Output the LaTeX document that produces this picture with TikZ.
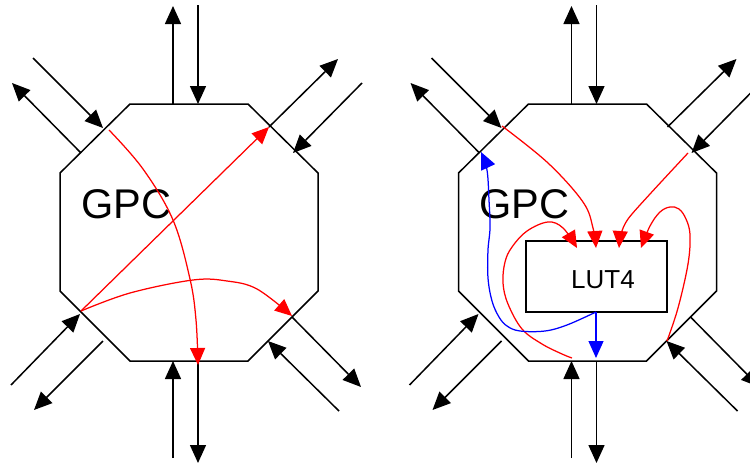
\documentclass[tikz,border=0pt]{standalone}
\usepackage{fontspec}
\setmainfont{Liberation Sans}
\usetikzlibrary{arrows.meta}
\tikzset{
  frame/.style={line width=1.5pt, line join=miter},
  io/.style={line width=1.5pt, -{Triangle[length=18pt,width=16pt]}},
  sig/.style={red, line width=1.25pt, -{Triangle[length=17pt,width=15pt]}},
  fb/.style={blue, line width=1.25pt, -{Triangle[length=17pt,width=15pt]}},
  bigtext/.style={font=\fontsize{41.5}{48}\selectfont, inner sep=0pt, anchor=base west},
  smalltext/.style={font=\fontsize{26}{30}\selectfont, inner sep=0pt, anchor=base west},
  lutbox/.style={draw, line width=1.5pt, minimum width=141pt, minimum height=71pt, inner sep=0pt},
}
\newcommand\gpcpanel{%
  \coordinate (v1) at (130,104);
  \coordinate (v2) at (248,104);
  \coordinate (v3) at (318,173);
  \coordinate (v4) at (318,291);
  \coordinate (v5) at (248,361);
  \coordinate (v6) at (130,361);
  \coordinate (v7) at (60,291);
  \coordinate (v8) at (60,173);
  \draw[frame] (v1) -- (v2) -- (v3) -- (v4) -- (v5) -- (v6) -- (v7) -- (v8) -- cycle;
  \coordinate (tos) at (173,104);  \coordinate (toe) at (173,6);
  \coordinate (tis) at (198,5);    \coordinate (tie) at (198,104);
  \coordinate (ulos) at (81,153);  \coordinate (uloe) at (12,83);
  \coordinate (ulis) at (33,58);   \coordinate (ulie) at (103,128);
  \coordinate (uros) at (269,127); \coordinate (uroe) at (338,59);
  \coordinate (uris) at (362,83);  \coordinate (urie) at (293,153);
  \coordinate (llis) at (11,385);  \coordinate (llie) at (80,314);
  \coordinate (llos) at (103,341); \coordinate (lloe) at (34,410);
  \coordinate (bis) at (173,458);  \coordinate (bie) at (173,361);
  \coordinate (bos) at (198,362);  \coordinate (boe) at (198,463);
  \coordinate (lros) at (292,317); \coordinate (lroe) at (361,387);
  \coordinate (lris) at (339,411); \coordinate (lrie) at (268,341);
  \foreach \a/\b in {tos/toe,tis/tie,ulos/uloe,ulis/ulie,uros/uroe,uris/urie,
                     llis/llie,llos/lloe,bis/bie,bos/boe,lros/lroe,lris/lrie}
    \draw[io] (\a) -- (\b);
}
\begin{document}
\begin{tikzpicture}[x=1pt,y=-1pt]
\useasboundingbox (0,0) rectangle (750,463);
\clip (0,0) rectangle (750,463);

% ---------- left panel ----------
\begin{scope}[name prefix=L-]
  \gpcpanel
  \node[bigtext] (gpc) at (81,218) {GPC};
  \coordinate (r1s) at (109,130);
  \coordinate (r1e) at (198,365);
  \coordinate (src) at (81,311);
  \coordinate (r3e) at (292,316);
  \coordinate (r2e) at (269,127);
  \draw[sig] plot[smooth, tension=0.6] coordinates
    {(r1s) (143,169) (173,220) (190,279) (196,320) (r1e)};
  \draw[sig] (src) -- (r2e);
  \draw[sig] plot[smooth, tension=0.6] coordinates
    {(src) (130,293) (193,280) (227,281) (257,289) (r3e)};
\end{scope}

% ---------- right panel ----------
\begin{scope}[xshift=398.5pt, name prefix=R-]
  \gpcpanel
\end{scope}
\node[bigtext] (R-gpc) at (479.5,218) {GPC};
\node[lutbox] (lut) at (596.5,276.5) {};
\node[smalltext] (luttext) at (571,288) {LUT4};

\coordinate (in1) at (577,248);
\coordinate (in2) at (596,248);
\coordinate (in3) at (619,248);
\coordinate (in4) at (641,248);
\coordinate (ra) at (502,126);
\coordinate (rb) at (688,153);
\coordinate (rc) at (667,341);
\coordinate (rd) at (572,358);
\coordinate (out) at (596,312);
\coordinate (outd) at (596,358);
\coordinate (fbe) at (481,152);

\draw[sig] plot[smooth, tension=0.6] coordinates
  {(ra) (548,163) (583,202) (593,228) (in2)};
\draw[sig] plot[smooth, tension=0.5] coordinates
  {(rb) (650,194) (628,219) (621,234) (in3)};
\draw[sig] plot[smooth, tension=0.6] coordinates
  {(rc) (678,308) (688,264) (690,235) (686,219) (679,209) (670,207) (660,212) (650,226) (in4)};
\draw[sig] plot[smooth, tension=0.6] coordinates
  {(rd) (562,354) (542,344) (522,329) (508,304) (503,283) (505,262) (512,247) (527,231) (548,222) (563,228) (in1)};

\draw[fb] (out) -- (outd);
\draw[fb] plot[smooth, tension=0.6] coordinates
  {(out) (567,325) (545,331) (520,331) (507,326) (499,317) (492,301) (488,278) (488,250) (490,228) (489,200) (487,170) (fbe)};
\end{tikzpicture}
\end{document}
